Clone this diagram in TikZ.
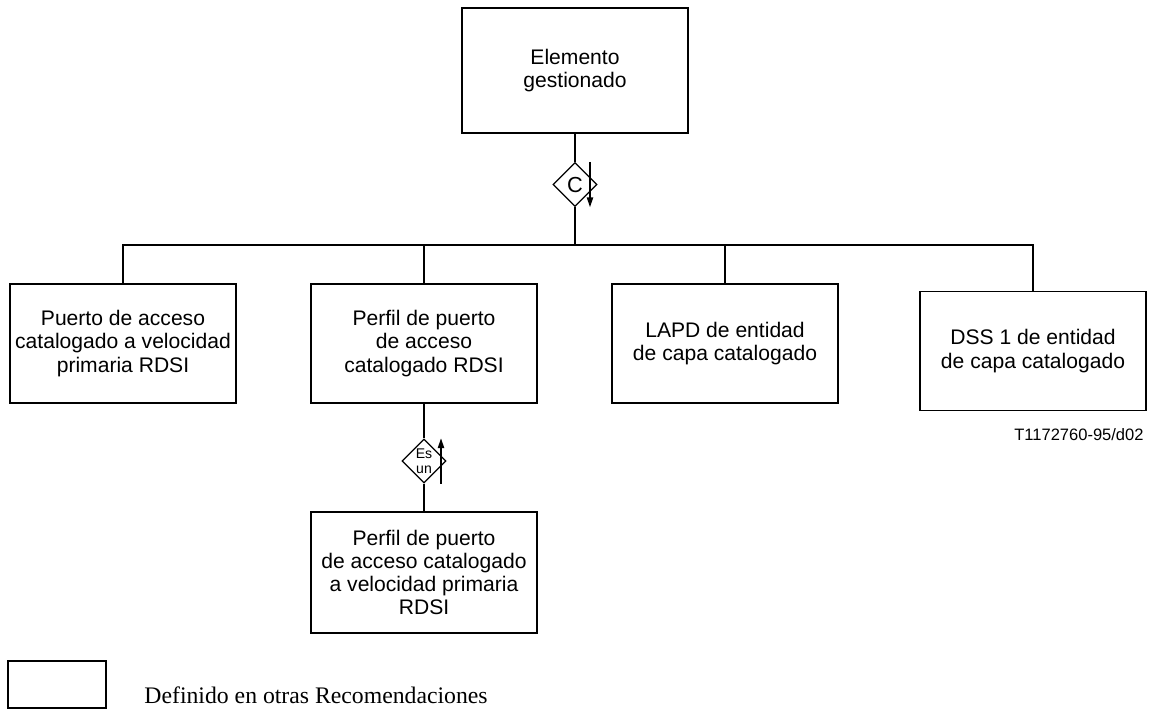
\documentclass[tikz,border=0pt]{standalone}
\usepackage{fontspec}
\setmainfont{Liberation Serif}
\setsansfont{Liberation Sans}
\usetikzlibrary{shapes.geometric,arrows.meta}

\begin{document}
\begin{tikzpicture}[x=0.02cm,y=-0.02cm,line width=0.7pt,
  obj node/.style={rectangle,draw,minimum width=4.52cm,minimum height=2.38cm,align=center,inner sep=1pt,
    font=\sffamily\fontsize{12}{13.2}\selectfont},
  rel node/.style={diamond,draw,minimum width=0.88cm,minimum height=0.88cm,inner sep=0pt,align=center},
  dir arrow/.style={-{Triangle[length=5.5pt,width=3.6pt]}}]
  \useasboundingbox (0,0) rectangle (1163,711);

  \node[obj node,minimum height=2.5cm] (gen) at (575,70.5) {Elemento\\gestionado};
  \node[rel node,font=\sffamily\fontsize{12.4}{12.4}\selectfont] (c) at (575,184.5) {C};
  \coordinate (bus) at (575,245);

  \node[obj node] (1) at (123,343.5) {Puerto de acceso\\catalogado a velocidad\\primaria RDSI};
  \node[obj node] (2) at (424,343.5) {Perfil de puerto\\de acceso\\catalogado RDSI};
  \node[obj node] (3) at (725,343.5) {LAPD de entidad\\de capa catalogado};
  \node[obj node] (4) at (1033,351) {DSS 1 de entidad\\de capa catalogado};

  \node[rel node,font=\sffamily\fontsize{8}{8.6}\selectfont] (isa) at (424,461) {Es\\un};
  \node[obj node,minimum height=2.42cm] (5) at (424,572.5) {Perfil de puerto\\de acceso catalogado\\a velocidad primaria\\RDSI};

  % leyenda
  \node[draw,minimum width=1.96cm,minimum height=0.94cm] (leg) at (57,684.5) {};
  \node[anchor=base west,font=\fontsize{13.5}{15}\selectfont] (legtext) at (138,703) {Definido en otras Recomendaciones};
  \node[anchor=base east,font=\sffamily\fontsize{9.4}{10}\selectfont] (fig) at (1150,440) {T1172760-95/d02};

  \path
    (gen) edge (c)
    (c) edge (bus)
    (2) edge (isa)
    (isa) edge (5);
  \draw (1.north) |- (4.north |- bus) -- (4.north);
  \draw (2.north) -- (2.north |- bus);
  \draw (3.north) -- (3.north |- bus);

  \draw[dir arrow] ([xshift=0.3cm]c.north) -- ([xshift=0.3cm]c.south);
  \draw[dir arrow] ([xshift=0.34cm]isa.south) -- ([xshift=0.34cm]isa.north);
\end{tikzpicture}
\end{document}
